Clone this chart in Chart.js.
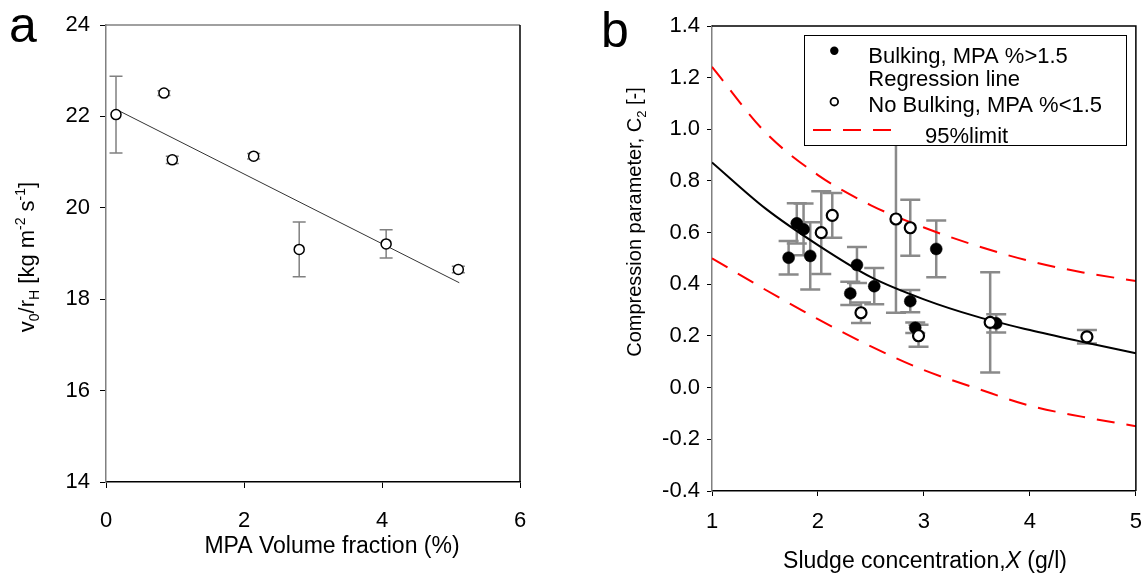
<!DOCTYPE html>
<html><head><meta charset="utf-8">
<script src="https://cdn.jsdelivr.net/npm/chart.js@4/dist/chart.umd.min.js"></script>
<style>
html,body{margin:0;padding:0;background:#fff;overflow:hidden}
#wrap{position:relative;width:1144px;height:575px;background:#fff;overflow:hidden}
canvas{position:absolute;top:0}
#ca{left:0}
#cb{left:572px}
</style></head><body>
<div id="wrap"><canvas id="ca" width="572" height="575"></canvas><canvas id="cb" width="583" height="575"></canvas></div>
<script>
// ---------- Panel a data ----------
const mpaFraction = [0.145, 0.84, 0.961, 2.14, 2.80, 4.06, 5.106];
const v0rH        = [22.04, 22.51, 21.05, 21.13, 19.09, 19.21, 18.65];
const v0rHErr     = [0.84, 0.05, 0.08, 0.06, 0.60, 0.31, 0.07];
const mpaFitX     = [0.178, 5.12];
const mpaFitY     = [22.13, 18.36];
const aXTicks     = [0, 2, 4, 6];
const aYTicks     = [14, 16, 18, 20, 22, 24];

// ---------- Panel b data ----------
const bulkX   = [1.723, 1.80, 1.864, 1.927, 2.305, 2.368, 2.531, 2.871, 2.918, 3.116, 3.682];
const bulkC2  = [0.503, 0.636, 0.613, 0.51, 0.365, 0.475, 0.393, 0.335, 0.232, 0.537, 0.249];
const bulkErr = [0.065, 0.078, 0.10, 0.13, 0.045, 0.07, 0.07, 0.043, 0.02, 0.11, 0.035];
const noBulkX   = [2.031, 2.135, 2.406, 2.736, 2.871, 2.949, 3.625, 4.538];
const noBulkC2  = [0.60, 0.667, 0.29, 0.653, 0.619, 0.201, 0.253, 0.197];
const noBulkErr = [0.16, 0.087, 0.04, 0.363, 0.108, 0.043, 0.194, 0.026];
const curveX    = [1, 1.5, 2, 2.5, 3, 3.5, 4, 4.5, 5];
const regC2     = [0.872, 0.695, 0.552, 0.428, 0.342, 0.275, 0.223, 0.177, 0.133];
const upperC2   = [1.242, 0.99, 0.823, 0.706, 0.62, 0.549, 0.49, 0.446, 0.413];
const lowerC2   = [0.501, 0.38, 0.265, 0.16, 0.068, -0.003, -0.07, -0.113, -0.149];
const bXTicks   = [1, 2, 3, 4, 5];
const bYTicks   = [-0.4, -0.2, 0.0, 0.2, 0.4, 0.6, 0.8, 1.0, 1.2, 1.4];

const FONT = '"Liberation Sans", Arial, sans-serif';
Chart.defaults.font.family = FONT;
Chart.defaults.color = '#000';
Chart.defaults.animation = false;

const pts = (xs, ys) => xs.map((x, i) => ({x, y: ys[i]}));

function makeErrorBars(sets, color, width, cap) {
  return {
    id: 'errorBars',
    beforeDatasetsDraw(chart) {
      const ctx = chart.ctx, xs = chart.scales.x, ys = chart.scales.y;
      ctx.save(); ctx.strokeStyle = color; ctx.lineWidth = width; ctx.lineCap = 'butt';
      for (const s of sets) {
        for (let i = 0; i < s.x.length; i++) {
          const px = xs.getPixelForValue(s.x[i]);
          const t = ys.getPixelForValue(s.y[i] + s.e[i]);
          const b = ys.getPixelForValue(s.y[i] - s.e[i]);
          ctx.beginPath();
          ctx.moveTo(px, t); ctx.lineTo(px, b);
          ctx.moveTo(px - cap, t); ctx.lineTo(px + cap, t);
          ctx.moveTo(px - cap, b); ctx.lineTo(px + cap, b);
          ctx.stroke();
        }
      }
      ctx.restore();
    }
  };
}

function richWidth(ctx, segs) {
  let w = 0;
  for (const s of segs) { ctx.font = (s.italic ? 'italic ' : '') + s.size + 'px ' + FONT; w += ctx.measureText(s.t).width; }
  return w;
}
function drawRich(ctx, segs, cx, by) {
  const w = richWidth(ctx, segs);
  let x = cx - w / 2;
  ctx.textBaseline = 'alphabetic'; ctx.textAlign = 'left'; ctx.fillStyle = '#000';
  for (const s of segs) {
    ctx.font = (s.italic ? 'italic ' : '') + s.size + 'px ' + FONT;
    ctx.fillText(s.t, x, by + (s.dy || 0));
    x += ctx.measureText(s.t).width;
  }
}

function axisCfg(min, max, ticks, opts) {
  return {
    type: 'linear', min, max,
    afterBuildTicks: (s) => { s.ticks = ticks.map(v => ({value: v})); },
    ticks: { font: {size: 22}, color: '#000', padding: opts.pad,
             callback: opts.fmt || ((v) => String(v)) },
    grid: { display: true, drawOnChartArea: false, drawTicks: true, tickLength: opts.tl, tickColor: '#000', tickWidth: 1 },
    border: { display: true, color: opts.bc, width: opts.bw },
    afterFit: opts.fit
  };
}

// ---------- Panel a ----------
const decoA = {
  id: 'decoA',
  afterDraw(chart) {
    const ctx = chart.ctx, a = chart.chartArea;
    ctx.save();
    ctx.lineWidth = 1.5; ctx.strokeStyle = '#808080';
    ctx.beginPath(); ctx.moveTo(a.left, a.top); ctx.lineTo(a.right, a.top); ctx.stroke();
    ctx.strokeStyle = '#000'; ctx.lineWidth = 1.5;
    ctx.beginPath(); ctx.moveTo(a.right, a.top); ctx.lineTo(a.right, a.bottom); ctx.stroke();
    drawRich(ctx, [{t: 'MPA Volume fraction (%)', size: 23}], 332, 553);
    ctx.translate(33.5, 257); ctx.rotate(-Math.PI / 2);
    drawRich(ctx, [
      {t: 'v', size: 22}, {t: '0', size: 14, dy: 5}, {t: '/r', size: 22}, {t: 'H', size: 14, dy: 5},
      {t: ' [kg m', size: 22}, {t: '-2', size: 14, dy: -9}, {t: ' s', size: 22}, {t: '-1', size: 14, dy: -9}, {t: ']', size: 22}
    ], 0, 0);
    ctx.setTransform(1, 0, 0, 1, 0, 0);
    ctx.font = '50px ' + FONT; ctx.textAlign = 'left'; ctx.textBaseline = 'alphabetic';
    ctx.fillText('a', 9, 42);
    ctx.restore();
  }
};

new Chart(document.getElementById('ca'), {
  type: 'scatter',
  data: { datasets: [
    { data: pts(mpaFraction, v0rH), pointRadius: 5, pointBackgroundColor: '#fff', pointBorderColor: '#000',
      pointBorderWidth: 1.5, showLine: false, order: 0 },
    { data: pts(mpaFitX, mpaFitY), showLine: true, borderColor: '#333', borderWidth: 1, pointRadius: 0, order: 1 }
  ]},
  options: {
    responsive: false, animation: false,
    layout: { padding: {left: 0, top: 25, right: 52, bottom: 0} },
    plugins: { legend: {display: false}, tooltip: {enabled: false} },
    scales: {
      x: axisCfg(0, 6, aXTicks, {pad: 20, tl: 6, bc: '#000', bw: 1.5, fit: (s) => { s.height = 93; }}),
      y: axisCfg(14, 24, aYTicks, {pad: 10, tl: 6, bc: '#808080', bw: 1.5, fit: (s) => { s.width = 106; }})
    }
  },
  plugins: [makeErrorBars([{x: mpaFraction, y: v0rH, e: v0rHErr}], '#808080', 1.5, 6.5), decoA]
});

// ---------- Panel b ----------
const decoB = {
  id: 'decoB',
  afterDraw(chart) {
    const ctx = chart.ctx, a = chart.chartArea;
    ctx.save();
    ctx.lineWidth = 1.5; ctx.strokeStyle = '#000';
    ctx.beginPath(); ctx.moveTo(a.left, a.top); ctx.lineTo(a.right, a.top); ctx.lineTo(a.right, a.bottom); ctx.stroke();
    // legend
    ctx.fillStyle = '#fff'; ctx.fillRect(232, 35, 322, 110);
    ctx.lineWidth = 1; ctx.strokeStyle = '#000'; ctx.strokeRect(232.5, 35.5, 322, 110);
    ctx.fillStyle = '#000';
    ctx.beginPath(); ctx.arc(262.3, 50.7, 4.2, 0, Math.PI * 2); ctx.fill();
    ctx.beginPath(); ctx.arc(262.3, 101.7, 3.8, 0, Math.PI * 2); ctx.fillStyle = '#fff'; ctx.fill();
    ctx.lineWidth = 1.8; ctx.strokeStyle = '#000'; ctx.stroke();
    ctx.strokeStyle = '#ff0000'; ctx.lineWidth = 2; ctx.setLineDash([18, 12]);
    ctx.beginPath(); ctx.moveTo(241, 130); ctx.lineTo(320, 130); ctx.stroke();
    ctx.setLineDash([]);
    ctx.fillStyle = '#000'; ctx.font = '22px ' + FONT; ctx.textAlign = 'left'; ctx.textBaseline = 'alphabetic';
    ctx.fillText('Bulking, MPA %>1.5', 296.3, 63.3);
    ctx.fillText('Regression line', 296.3, 85.5);
    ctx.fillText('No Bulking, MPA %<1.5', 296.3, 111.7);
    ctx.fillText('95%limit', 353, 142.7);
    // titles
    drawRich(ctx, [{t: 'Sludge concentration,', size: 23}, {t: 'X', size: 23, italic: true}, {t: ' (g/l)', size: 23}], 353, 568);
    ctx.translate(68.5, 222); ctx.rotate(-Math.PI / 2);
    drawRich(ctx, [{t: 'Compression parameter, C', size: 20}, {t: '2', size: 13, dy: 5}, {t: ' [-]', size: 20}], 0, 0);
    ctx.setTransform(1, 0, 0, 1, 0, 0);
    ctx.font = '50px ' + FONT; ctx.textAlign = 'left'; ctx.textBaseline = 'alphabetic'; ctx.fillStyle = '#000';
    ctx.fillText('b', 29, 47);
    ctx.restore();
  }
};

new Chart(document.getElementById('cb'), {
  type: 'scatter',
  data: { datasets: [
    { label: 'No Bulking, MPA %<1.5', data: pts(noBulkX, noBulkC2), pointRadius: 5.5, pointBackgroundColor: '#fff',
      pointBorderColor: '#000', pointBorderWidth: 2.2, showLine: false, order: 0 },
    { label: 'Bulking, MPA %>1.5', data: pts(bulkX, bulkC2), pointRadius: 6, pointBackgroundColor: '#000',
      pointBorderColor: '#000', pointBorderWidth: 0.5, showLine: false, order: 1 },
    { label: 'Regression line', data: pts(curveX, regC2), showLine: true, borderColor: '#000', borderWidth: 2,
      pointRadius: 0, cubicInterpolationMode: 'monotone', order: 2 },
    { label: '95%limit', data: pts(curveX, upperC2), showLine: true, borderColor: '#ff0000', borderWidth: 2,
      borderDash: [18, 12], pointRadius: 0, cubicInterpolationMode: 'monotone', order: 3 },
    { label: '95%limit lower', data: pts(curveX, lowerC2), showLine: true, borderColor: '#ff0000', borderWidth: 2,
      borderDash: [18, 12], pointRadius: 0, cubicInterpolationMode: 'monotone', order: 3 }
  ]},
  options: {
    responsive: false, animation: false,
    layout: { padding: {left: 0, top: 26, right: 8, bottom: 0} },
    plugins: { legend: {display: false}, tooltip: {enabled: false} },
    scales: {
      x: axisCfg(1, 5, bXTicks, {pad: 13, tl: 5, bc: '#000', bw: 1.5, fit: (s) => { s.height = 84; }}),
      y: axisCfg(-0.4, 1.4, bYTicks, {pad: 7, tl: 5, bc: '#808080', bw: 1.5, fit: (s) => { s.width = 140; },
        fmt: (v) => Number(v).toFixed(1)})
    }
  },
  plugins: [makeErrorBars([{x: bulkX, y: bulkC2, e: bulkErr}, {x: noBulkX, y: noBulkC2, e: noBulkErr}], '#8a8a8a', 2.5, 10), decoB]
});
</script>
</body></html>
